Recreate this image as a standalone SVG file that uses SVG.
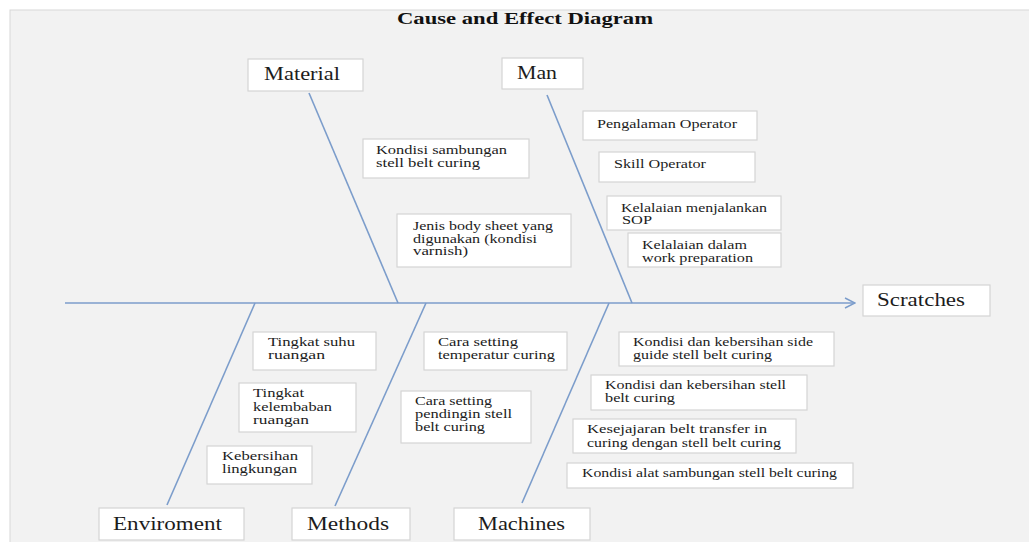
<svg xmlns="http://www.w3.org/2000/svg" width="1029" height="542" viewBox="0 0 1029 542">
<style>
.bx{fill:#ffffff;stroke:#d4d4d4;stroke-width:1.2}
.ln{stroke:#7c9dcb;stroke-width:1.6;fill:none}
.cat{font-family:"Liberation Serif",serif;font-size:18px;fill:#1c1c1c}
.s{font-family:"Liberation Serif",serif;font-size:12px;fill:#1c1c1c}
.t{font-family:"Liberation Serif",serif;font-size:16px;font-weight:bold;fill:#111}
</style>
<defs>
<marker id="arr" viewBox="0 0 12 12" refX="11" refY="6" markerWidth="12" markerHeight="12" markerUnits="userSpaceOnUse" orient="auto">
<path d="M1,1 L11,6 L1,11" fill="none" stroke="#7c9dcb" stroke-width="1.5"/>
</marker>
</defs>
<rect x="0" y="0" width="1029" height="542" fill="#ffffff"/>
<rect x="10" y="10" width="1025" height="540" fill="#f2f2f2" stroke="#d8d8d8" stroke-width="1"/>
<text class="t" x="397" y="24" textLength="256" lengthAdjust="spacingAndGlyphs">Cause and Effect Diagram</text>

<g id="connectors">
<line class="ln" x1="65" y1="303" x2="855" y2="303" marker-end="url(#arr)"/>
<line class="ln" x1="309" y1="93" x2="398" y2="303"/>
<line class="ln" x1="547" y1="95" x2="632" y2="303"/>
<line class="ln" x1="255" y1="303" x2="167" y2="505"/>
<line class="ln" x1="426" y1="303" x2="335" y2="506"/>
<line class="ln" x1="609" y1="303" x2="522" y2="503"/>
</g>

<g id="material">
<rect class="bx" x="248" y="59" width="115" height="32"/>
<text class="cat" x="264" y="80" textLength="76" lengthAdjust="spacingAndGlyphs">Material</text>
</g>
<g id="man">
<rect class="bx" x="502" y="58" width="81" height="31"/>
<text class="cat" x="517" y="79" textLength="40" lengthAdjust="spacingAndGlyphs">Man</text>
</g>
<g id="scratches">
<rect class="bx" x="863" y="285" width="127" height="31"/>
<text class="cat" x="877" y="306" textLength="88" lengthAdjust="spacingAndGlyphs">Scratches</text>
</g>
<g id="enviroment">
<rect class="bx" x="99" y="508" width="145" height="32"/>
<text class="cat" x="113" y="530" textLength="109" lengthAdjust="spacingAndGlyphs">Enviroment</text>
</g>
<g id="methods">
<rect class="bx" x="292" y="508" width="118" height="32"/>
<text class="cat" x="307" y="530" textLength="82" lengthAdjust="spacingAndGlyphs">Methods</text>
</g>
<g id="machines">
<rect class="bx" x="454" y="508" width="136" height="32"/>
<text class="cat" x="478" y="530" textLength="87" lengthAdjust="spacingAndGlyphs">Machines</text>
</g>

<g id="c-material-1">
<rect class="bx" x="363" y="139" width="166" height="39"/>
<text class="s" x="376" y="154" textLength="131" lengthAdjust="spacingAndGlyphs">Kondisi sambungan</text>
<text class="s" x="376" y="167" textLength="104" lengthAdjust="spacingAndGlyphs">stell belt curing</text>
</g>
<g id="c-material-2">
<rect class="bx" x="397" y="214" width="174" height="53"/>
<text class="s" x="413" y="230" textLength="140" lengthAdjust="spacingAndGlyphs">Jenis body sheet yang</text>
<text class="s" x="413" y="243" textLength="124" lengthAdjust="spacingAndGlyphs">digunakan (kondisi</text>
<text class="s" x="413" y="255" textLength="55" lengthAdjust="spacingAndGlyphs">varnish)</text>
</g>

<g id="c-man-1">
<rect class="bx" x="583" y="111" width="174" height="29"/>
<text class="s" x="597" y="128" textLength="140" lengthAdjust="spacingAndGlyphs">Pengalaman Operator</text>
</g>
<g id="c-man-2">
<rect class="bx" x="599" y="152" width="156" height="30"/>
<text class="s" x="614" y="168" textLength="92" lengthAdjust="spacingAndGlyphs">Skill Operator</text>
</g>
<g id="c-man-3">
<rect class="bx" x="607" y="196" width="174" height="34"/>
<text class="s" x="621" y="212" textLength="146" lengthAdjust="spacingAndGlyphs">Kelalaian menjalankan</text>
<text class="s" x="622" y="224" textLength="30" lengthAdjust="spacingAndGlyphs">SOP</text>
</g>
<g id="c-man-4">
<rect class="bx" x="628" y="233" width="153" height="34"/>
<text class="s" x="642" y="249" textLength="105" lengthAdjust="spacingAndGlyphs">Kelalaian dalam</text>
<text class="s" x="642" y="262" textLength="111" lengthAdjust="spacingAndGlyphs">work preparation</text>
</g>

<g id="c-env-1">
<rect class="bx" x="253" y="332" width="123" height="38"/>
<text class="s" x="268" y="346" textLength="87" lengthAdjust="spacingAndGlyphs">Tingkat suhu</text>
<text class="s" x="268" y="359" textLength="57" lengthAdjust="spacingAndGlyphs">ruangan</text>
</g>
<g id="c-env-2">
<rect class="bx" x="239" y="383" width="117" height="49"/>
<text class="s" x="253" y="397" textLength="51" lengthAdjust="spacingAndGlyphs">Tingkat</text>
<text class="s" x="253" y="411" textLength="79" lengthAdjust="spacingAndGlyphs">kelembaban</text>
<text class="s" x="253" y="424" textLength="56" lengthAdjust="spacingAndGlyphs">ruangan</text>
</g>
<g id="c-env-3">
<rect class="bx" x="207" y="446" width="105" height="38"/>
<text class="s" x="222" y="460" textLength="76" lengthAdjust="spacingAndGlyphs">Kebersihan</text>
<text class="s" x="222" y="473" textLength="75" lengthAdjust="spacingAndGlyphs">lingkungan</text>
</g>

<g id="c-methods-1">
<rect class="bx" x="424" y="332" width="143" height="38"/>
<text class="s" x="438" y="346" textLength="80" lengthAdjust="spacingAndGlyphs">Cara setting</text>
<text class="s" x="438" y="359" textLength="117" lengthAdjust="spacingAndGlyphs">temperatur curing</text>
</g>
<g id="c-methods-2">
<rect class="bx" x="401" y="391" width="130" height="52"/>
<text class="s" x="415" y="405" textLength="77" lengthAdjust="spacingAndGlyphs">Cara setting</text>
<text class="s" x="415" y="418" textLength="97" lengthAdjust="spacingAndGlyphs">pendingin stell</text>
<text class="s" x="415" y="431" textLength="70" lengthAdjust="spacingAndGlyphs">belt curing</text>
</g>

<g id="c-machines-1">
<rect class="bx" x="619" y="332" width="215" height="34"/>
<text class="s" x="633" y="346" textLength="180" lengthAdjust="spacingAndGlyphs">Kondisi dan kebersihan side</text>
<text class="s" x="633" y="359" textLength="139" lengthAdjust="spacingAndGlyphs">guide stell belt curing</text>
</g>
<g id="c-machines-2">
<rect class="bx" x="591" y="375" width="216" height="35"/>
<text class="s" x="605" y="389" textLength="181" lengthAdjust="spacingAndGlyphs">Kondisi dan kebersihan stell</text>
<text class="s" x="605" y="402" textLength="70" lengthAdjust="spacingAndGlyphs">belt curing</text>
</g>
<g id="c-machines-3">
<rect class="bx" x="573" y="419" width="223" height="34"/>
<text class="s" x="587" y="433" textLength="180" lengthAdjust="spacingAndGlyphs">Kesejajaran belt transfer  in</text>
<text class="s" x="587" y="447" textLength="194" lengthAdjust="spacingAndGlyphs">curing dengan stell belt curing</text>
</g>
<g id="c-machines-4">
<rect class="bx" x="567" y="463" width="286" height="25"/>
<text class="s" x="582" y="477" textLength="255" lengthAdjust="spacingAndGlyphs">Kondisi alat sambungan stell belt curing</text>
</g>
</svg>
